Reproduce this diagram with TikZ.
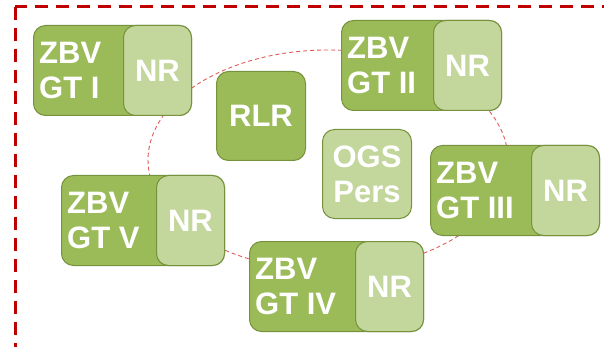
\documentclass[tikz,border=0pt]{standalone}
\usepackage{fontspec}
\setmainfont{Liberation Sans}

\definecolor{zbvGreen}{HTML}{9BBB59}
\definecolor{nrGreen}{HTML}{C3D69B}
\definecolor{zbvEdge}{HTML}{76923C}
\definecolor{frameRed}{HTML}{C00000}
\definecolor{ringRed}{HTML}{E05A5A}

\tikzset{
  gtbox/.style={draw=zbvEdge, fill=zbvGreen, line width=1pt, rounded corners=12pt,
    anchor=north west, inner sep=0pt, minimum height=90pt},
  nrbox/.style={draw=zbvEdge, fill=nrGreen, line width=1pt, rounded corners=12pt,
    anchor=north east, inner sep=0pt, minimum width=68pt, minimum height=90pt,
    text=white, font=\fontsize{31}{35}\selectfont\bfseries},
  gtlabel/.style={anchor=west, inner sep=0pt, align=left, text=white,
    font=\fontsize{31}{35}\selectfont\bfseries},
  unitbox/.style={draw=zbvEdge, line width=1pt, rounded corners=12pt, anchor=north west,
    inner sep=0pt, minimum width=89pt, minimum height=89pt, align=center, text=white,
    font=\fontsize{31}{35}\selectfont\bfseries}
}

\begin{document}
\begin{tikzpicture}[x=1pt,y=-1pt]
  \clip (0,0) rectangle (604,347);

  % outer frame, cut off at right and bottom
  \draw[frameRed, line width=3pt, dash pattern=on 13pt off 8pt] (15,7) rectangle (625,348.2);

  % ring behind the groups
  \draw[ringRed, line width=0.9pt, dash pattern=on 4pt off 3pt]
    (328,160) ellipse [x radius=180pt, y radius=110pt];

  % ZBV groups with their NR part
  \foreach \name/\x/\y/\w/\txt in {gtI/33/25/158/GT I, gtII/341/20/160/GT II,
      gtIII/430/145/169/GT III, gtV/61/175/163/GT V, gtIV/249/241/174/GT IV} {
    \node[gtbox, minimum width=\w] (\name) at (\x,\y) {};
    \node[nrbox] (\name nr) at (\name.north east) {NR};
    \node[gtlabel] (\name txt) at ([xshift=6pt]\name.west) {ZBV\\\txt};
  }

  \node[unitbox, fill=zbvGreen] (rlr) at (216,71) {RLR};
  \node[unitbox, fill=nrGreen] (ogs) at (322,129) {OGS\\Pers};
\end{tikzpicture}
\end{document}
